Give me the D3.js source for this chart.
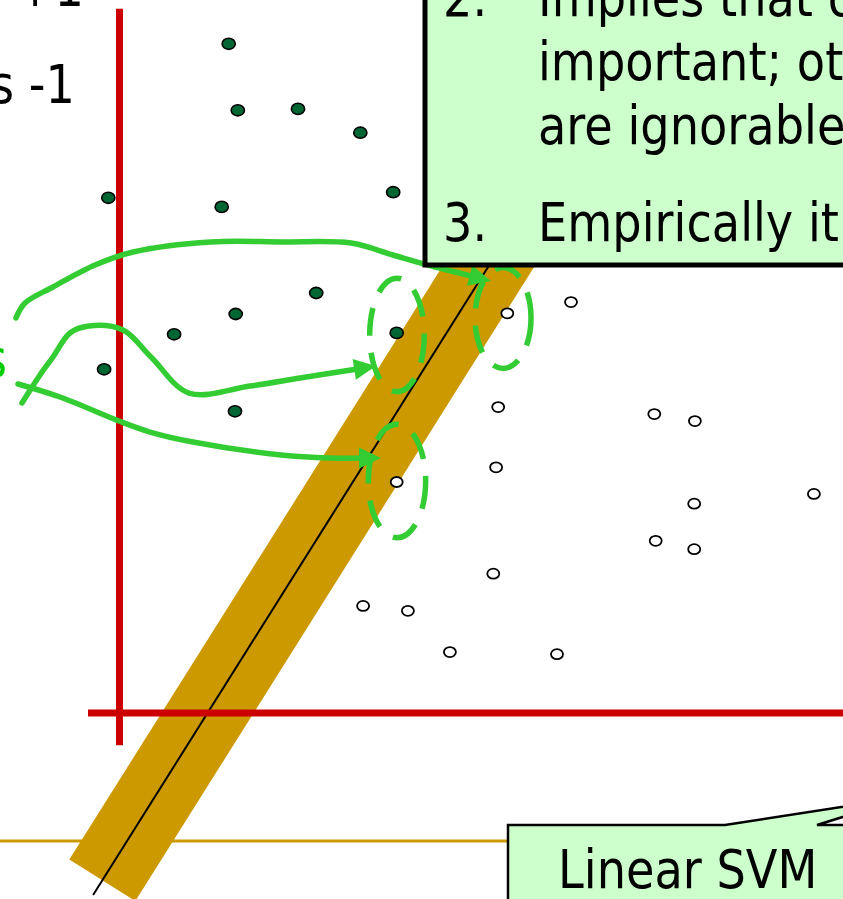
<!DOCTYPE html>
<html>
<head>
<meta charset="utf-8">
<script src="https://cdn.jsdelivr.net/npm/d3@7"></script>
<style>
  html, body { margin: 0; padding: 0; background: #fff; }
  svg { display: block; }
</style>
</head>
<body>
<svg id="chart" width="843" height="899"></svg>
<script>
// ---- data (feature space units) ----
// class +1 (filled)
const posX = [15.6, 16.9, 25.5, 34.4, -1.6, 14.6, 39.1, 28.1, 16.6, 7.8, 39.6, -2.2, 16.5];
const posY = [95.6, 86.1, 86.3, 82.9, 73.6, 72.3, 74.4, 60.0, 57.0, 54.1, 54.3, 49.1, 43.1];
// class -1 (open)
const negX = [55.4, 64.5, 54.1, 76.4, 82.2, 53.8, 39.6, 82.1, 99.2, 76.6, 82.1, 53.4, 34.8, 41.2, 47.2, 62.5];
const negY = [57.1, 58.7, 43.7, 42.7, 41.7, 35.1, 33.0, 29.9, 31.3, 24.6, 23.4, 19.9, 15.3, 14.6, 8.7, 8.4];

// separating line  y = slope * x + intercept, margin half-width (perpendicular)
const boundarySlope = 1.59;
const boundaryIntercept = -20;
const marginHalf = 5.57;
const bandStartY = -23.9;   // lower end of the margin band
const lineStartY = -26;     // lower end of the decision line
const lineEndY = 115;

// support-vector highlight rings: centre x, centre y, radius x, radius y
const ringCx = [39.64, 54.79, 39.64];
const ringCy = [54.0, 56.43, 33.14];
const ringRx = [3.9, 4.0, 4.1];
const ringRy = [8.1, 7.2, 8.1];

// hand-drawn arrows from the "Support Vectors" label
const arrowTop = [[-14.79, 56.43], [-13.5, 58.57], [-9.5, 60.86], [-3.5, 64.0], [1.93, 65.86], [13.07, 67.29],
                  [23.07, 67.29], [33.07, 67.14], [39.07, 65.43], [44.07, 64.0], [53.07, 61.71]];
const arrowMid = [[-13.93, 44.29], [-11.36, 48.29], [-9.5, 50.86], [-7.07, 54.29], [-4.36, 55.29], [0.5, 54.71],
                  [4.5, 50.86], [9.93, 45.71], [18.64, 46.71], [25.79, 47.86], [33.07, 49.0], [36.64, 49.57]];
const arrowLow = [[-14.5, 47.0], [-8.5, 45.14], [-0.07, 41.71], [4.36, 40.14], [10.5, 38.71],
                  [23.07, 36.86], [30.07, 36.43], [37.36, 36.43]];

// axis extents
const axisMin = -4.5, axisTopY = 100.6, axisRightX = 104, axisBottomY = -4.6;

// text
const legendLines = ["denotes +1", "denotes -1"];
const noteNumbers = ["2.", "3."];
const noteLines2 = ["Implies that only support vectors are", "important; other training examples", "are ignorable."];
const noteLine3 = "Empirically it works very very well.";
const svLabel = "Support Vectors";
const calloutLabel = "Linear SVM";

// ---- drawing ----
const svg = d3.select("#chart");
const W = 843, H = 899;
const x = d3.scaleLinear().domain([0, 100]).range([119.5, 819.5]);
const y = d3.scaleLinear().domain([0, 100]).range([713, 13]);

const GREEN = "#33CC33", RED = "#CC0000", GOLD = "#CC9900", PALE = "#CCFFCC";
const FONT = "DejaVu Sans", FS = 53.5, SX = 0.865;

svg.append("rect").attr("width", W).attr("height", H).attr("fill", "#fff");

// slide rule line
svg.append("line").attr("x1", 0).attr("x2", 520).attr("y1", 841).attr("y2", 841)
  .attr("stroke", GOLD).attr("stroke-width", 3);

// margin band
const dirLen = Math.hypot(1, boundarySlope);
const dx = 1 / dirLen, dy = boundarySlope / dirLen;      // along line
const nx = dy, ny = -dx;                                  // normal
const onLine = v => [(v - boundaryIntercept) / boundarySlope, v];
const b0 = onLine(bandStartY), b1 = onLine(lineEndY);
const band = [
  [b0[0] - nx * marginHalf, b0[1] - ny * marginHalf],
  [b0[0] + nx * marginHalf, b0[1] + ny * marginHalf],
  [b1[0] + nx * marginHalf, b1[1] + ny * marginHalf],
  [b1[0] - nx * marginHalf, b1[1] - ny * marginHalf]
];
svg.append("path")
  .attr("d", d3.line().x(d => x(d[0])).y(d => y(d[1]))(band) + "Z")
  .attr("fill", GOLD);

// decision line
const l0 = onLine(lineStartY), l1 = onLine(lineEndY);
svg.append("line")
  .attr("x1", x(l0[0])).attr("y1", y(l0[1]))
  .attr("x2", x(l1[0])).attr("y2", y(l1[1]))
  .attr("stroke", "#000").attr("stroke-width", 2);

// axes
svg.append("line").attr("x1", x(0)).attr("x2", x(0)).attr("y1", y(axisTopY)).attr("y2", y(axisBottomY))
  .attr("stroke", RED).attr("stroke-width", 7);
svg.append("line").attr("x1", x(axisMin)).attr("x2", x(axisRightX)).attr("y1", y(0)).attr("y2", y(0))
  .attr("stroke", RED).attr("stroke-width", 7);

// points
svg.append("g").selectAll("ellipse").data(posX.map((v, i) => [v, posY[i]])).join("ellipse")
  .attr("cx", d => x(d[0])).attr("cy", d => y(d[1])).attr("rx", 6.6).attr("ry", 5.6)
  .attr("fill", "#006633").attr("stroke", "#000").attr("stroke-width", 1.6);
svg.append("g").selectAll("ellipse").data(negX.map((v, i) => [v, negY[i]])).join("ellipse")
  .attr("cx", d => x(d[0])).attr("cy", d => y(d[1])).attr("rx", 6).attr("ry", 5)
  .attr("fill", "#fff").attr("stroke", "#000").attr("stroke-width", 1.8);

// support-vector rings
svg.append("g").selectAll("ellipse").data(ringCx.map((v, i) => i)).join("ellipse")
  .attr("cx", i => x(ringCx[i])).attr("cy", i => y(ringCy[i]))
  .attr("rx", i => x(ringRx[i]) - x(0)).attr("ry", i => y(0) - y(ringRy[i]))
  .attr("fill", "none").attr("stroke", GREEN).attr("stroke-width", 5.5)
  .attr("stroke-dasharray", "28,17");

// arrows
function drawArrow(pts) {
  const px = pts.map(p => [x(p[0]), y(p[1])]);
  const tip = px[px.length - 1], prev = px[px.length - 2];
  const L = Math.hypot(tip[0] - prev[0], tip[1] - prev[1]);
  const ux = (tip[0] - prev[0]) / L, uy = (tip[1] - prev[1]) / L;
  const head = 22, half = 10.5;
  const base = [tip[0] - ux * head, tip[1] - uy * head];
  const body = px.slice(0, -1).concat([[base[0] + ux * 3, base[1] + uy * 3]]);
  svg.append("path")
    .attr("d", d3.line().curve(d3.curveCatmullRom.alpha(0.5))(body))
    .attr("fill", "none").attr("stroke", GREEN).attr("stroke-width", 5.5)
    .attr("stroke-linecap", "round").attr("stroke-linejoin", "round");
  svg.append("path")
    .attr("d", `M${tip[0]},${tip[1]}L${base[0] - uy * half},${base[1] + ux * half}L${base[0] + uy * half},${base[1] - ux * half}Z`)
    .attr("fill", GREEN);
}
[arrowTop, arrowMid, arrowLow].forEach(drawArrow);

// text helper (narrowed sans to approximate a Tahoma-like face)
function label(str, tx, ty, opts = {}) {
  svg.append("g").attr("transform", `translate(${tx},${ty}) scale(${SX},1)`)
    .append("text").text(str)
    .attr("font-family", FONT).attr("font-size", FS)
    .attr("text-anchor", opts.anchor || "start")
    .attr("fill", opts.fill || "#000");
}

// legend text
label(legendLines[0], 84, 6, { anchor: "end" });
label(legendLines[1], 75, 103, { anchor: "end" });

// Support vector label
label(svLabel, 7, 377, { anchor: "end", fill: "#00CC00" });

// notes box
svg.append("rect").attr("x", 425).attr("y", -30).attr("width", 500).attr("height", 295)
  .attr("fill", PALE).attr("stroke", "#000").attr("stroke-width", 5);
label(noteNumbers[0], 443, 16);
noteLines2.forEach((t, i) => label(t, 538, 16 + i * 64));
label(noteNumbers[1], 443, 241);
label(noteLine3, 538, 241);

// callout
svg.append("path")
  .attr("d", "M508,910L508,825L725,825L907,797L817,825L900,825L900,910Z")
  .attr("fill", PALE).attr("stroke", "#000").attr("stroke-width", 2.5).attr("stroke-linejoin", "miter");
label(calloutLabel, 558, 888);
</script>
</body>
</html>
